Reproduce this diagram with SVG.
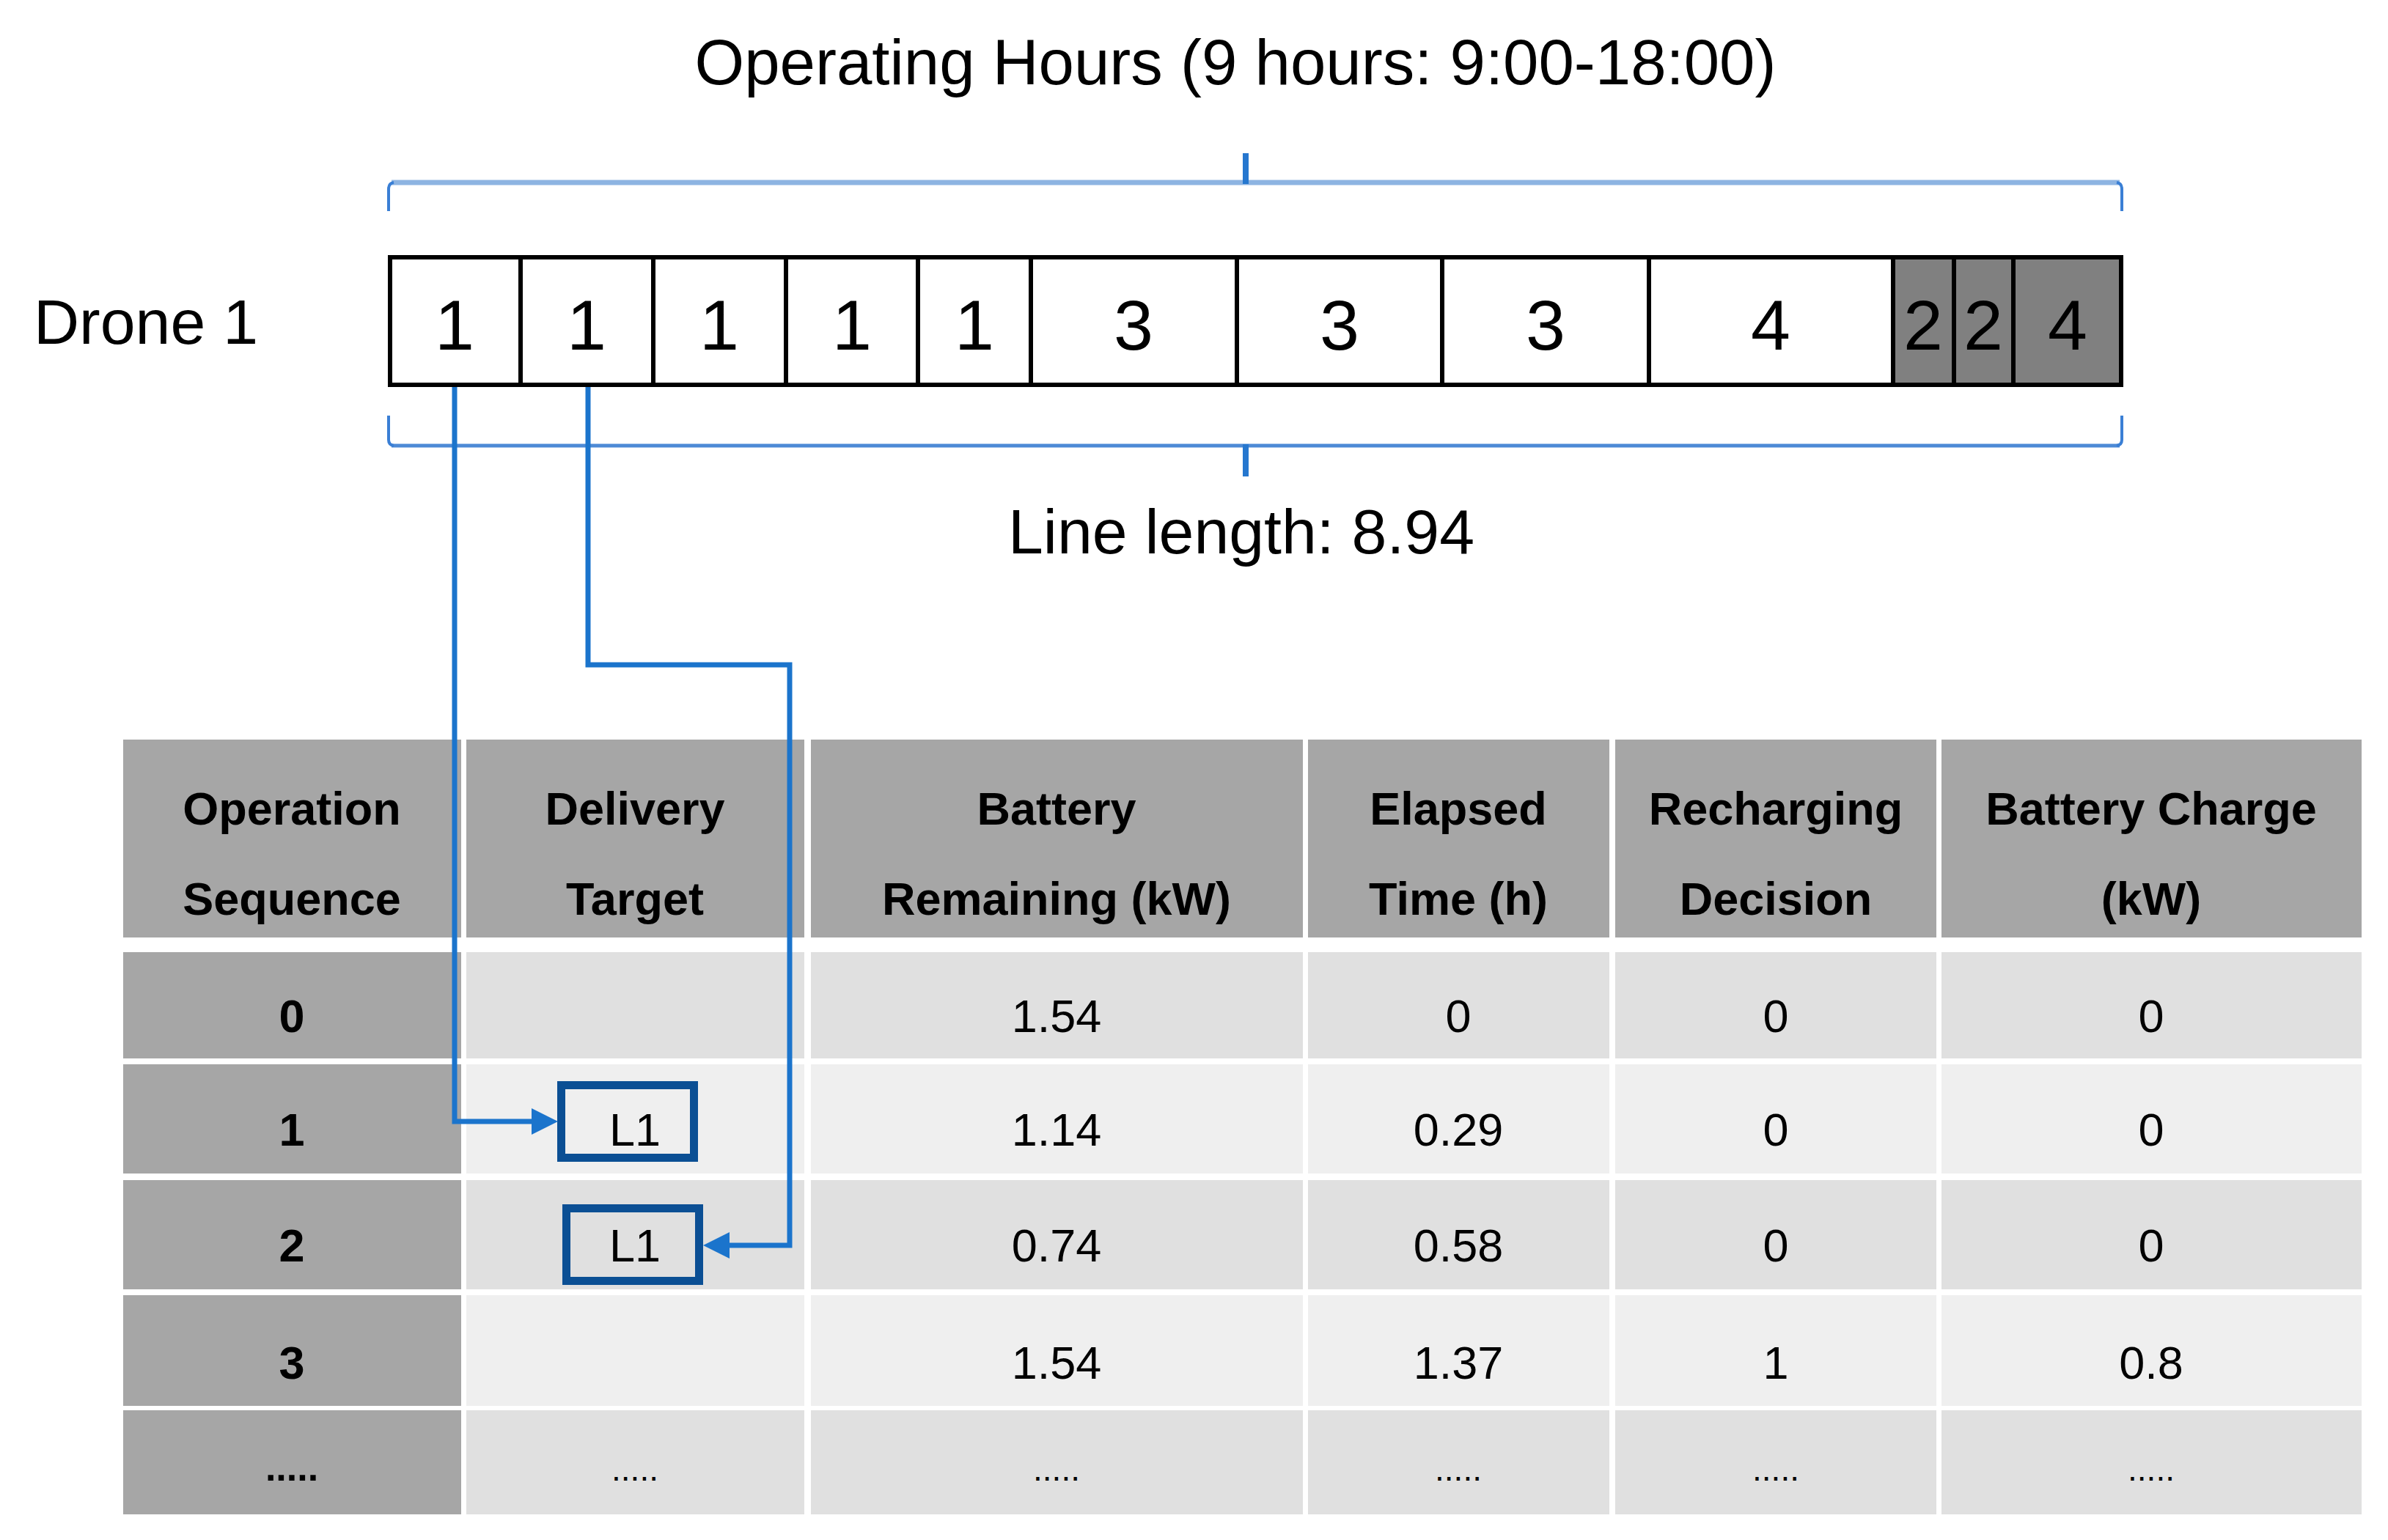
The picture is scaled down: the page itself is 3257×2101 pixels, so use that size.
<svg xmlns="http://www.w3.org/2000/svg" width="3257" height="2101" viewBox="0 0 3257 2101">
<style>
.lbl{font-family:"Liberation Sans",Arial,sans-serif;fill:#000}
.big{font-size:87px}
.cellnum{font-size:97px;text-anchor:middle}
.cell{fill:#fff;stroke:#000;stroke-width:6}
.cellg{fill:#808080;stroke:#000;stroke-width:6}
.hd{fill:#a6a6a6}
.rA{fill:#e0e0e0}
.rB{fill:#efefef}
.th{font-size:63px;font-weight:bold;text-anchor:middle}
.td{font-size:63px;text-anchor:middle}
.tdb{font-size:63px;font-weight:bold;text-anchor:middle}
.conn{fill:none;stroke:#1b74cc;stroke-width:7}
.lbox{fill:none;stroke:#0b4f94;stroke-width:11}
.brH{fill:none;stroke:#8db4e2;stroke-width:7}
.brH2{fill:none;stroke:#4d8ad6;stroke-width:5}
.brV{fill:none;stroke:#3a7fd5;stroke-width:4}
.tick{fill:none;stroke:#2677cf;stroke-width:8}
</style>
<defs>
<marker id="ah" markerUnits="userSpaceOnUse" viewBox="0 0 36 36" refX="0" refY="18" markerWidth="36" markerHeight="36" orient="auto">
<path d="M0,0 L36,18 L0,36 z" fill="#1b74cc"/>
</marker>
</defs>
<rect x="0" y="0" width="3257" height="2101" fill="#fff"/>

<g id="title"><text class="lbl big" x="1685" y="115" text-anchor="middle">Operating Hours (9 hours: 9:00-18:00)</text></g>

<g id="bracket-top">
<path class="brH" d="M534 249 H2891"/>
<path class="brV" d="M530 288 V258 Q530 250 537 249"/>
<path class="brV" d="M2894 288 V258 Q2894 250 2887 249"/>
<path class="tick" d="M1699 209 V251"/>
</g>

<g id="drone-label"><text class="lbl big" x="46" y="469" style="font-size:86px">Drone 1</text></g>

<g id="schedule-bar">
<rect class="cell" x="532" y="351" width="178" height="174"/>
<rect class="cell" x="710" y="351" width="181" height="174"/>
<rect class="cell" x="891" y="351" width="181" height="174"/>
<rect class="cell" x="1072" y="351" width="180" height="174"/>
<rect class="cell" x="1252" y="351" width="154" height="174"/>
<rect class="cell" x="1406" y="351" width="281" height="174"/>
<rect class="cell" x="1687" y="351" width="280" height="174"/>
<rect class="cell" x="1967" y="351" width="282" height="174"/>
<rect class="cell" x="2249" y="351" width="333" height="174"/>
<rect class="cellg" x="2582" y="351" width="83" height="174"/>
<rect class="cellg" x="2665" y="351" width="81" height="174"/>
<rect class="cellg" x="2746" y="351" width="147" height="174"/>
<g class="lbl cellnum">
<text x="620" y="477">1</text>
<text x="800" y="477">1</text>
<text x="981" y="477">1</text>
<text x="1162" y="477">1</text>
<text x="1329" y="477">1</text>
<text x="1546" y="477">3</text>
<text x="1827" y="477">3</text>
<text x="2108" y="477">3</text>
<text x="2415" y="477">4</text>
<text x="2623" y="477">2</text>
<text x="2705" y="477">2</text>
<text x="2820" y="477">4</text>
</g>
</g>

<g id="bracket-bottom">
<path class="brH2" d="M534 608 H2891"/>
<path class="brV" d="M530 567 V600 Q530 607 537 608"/>
<path class="brV" d="M2894 567 V600 Q2894 607 2887 608"/>
<path class="tick" d="M1699 606 V650"/>
</g>

<g id="line-length"><text class="lbl big" x="1693" y="755" text-anchor="middle" style="font-size:86px">Line length: 8.94</text></g>

<g id="table">
<rect class="hd" x="168" y="1009" width="461" height="270"/>
<rect class="hd" x="636" y="1009" width="461" height="270"/>
<rect class="hd" x="1106" y="1009" width="671" height="270"/>
<rect class="hd" x="1784" y="1009" width="411" height="270"/>
<rect class="hd" x="2203" y="1009" width="438" height="270"/>
<rect class="hd" x="2648" y="1009" width="573" height="270"/>
<g class="lbl th">
<text x="398" y="1125">Operation</text><text x="398" y="1248">Sequence</text>
<text x="866" y="1125">Delivery</text><text x="866" y="1248">Target</text>
<text x="1441" y="1125">Battery</text><text x="1441" y="1248">Remaining (kW)</text>
<text x="1989" y="1125">Elapsed</text><text x="1989" y="1248">Time (h)</text>
<text x="2422" y="1125">Recharging</text><text x="2422" y="1248">Decision</text>
<text x="2934" y="1125">Battery Charge</text><text x="2934" y="1248">(kW)</text>
</g>

<g id="row0">
<rect class="hd" x="168" y="1299" width="461" height="145"/>
<rect class="rA" x="636" y="1299" width="461" height="145"/>
<rect class="rA" x="1106" y="1299" width="671" height="145"/>
<rect class="rA" x="1784" y="1299" width="411" height="145"/>
<rect class="rA" x="2203" y="1299" width="438" height="145"/>
<rect class="rA" x="2648" y="1299" width="573" height="145"/>
<text class="lbl tdb" x="398" y="1408">0</text>
<text class="lbl td" x="1441" y="1408">1.54</text>
<text class="lbl td" x="1989" y="1408">0</text>
<text class="lbl td" x="2422" y="1408">0</text>
<text class="lbl td" x="2934" y="1408">0</text>
</g>
<g id="row1">
<rect class="hd" x="168" y="1452" width="461" height="149"/>
<rect class="rB" x="636" y="1452" width="461" height="149"/>
<rect class="rB" x="1106" y="1452" width="671" height="149"/>
<rect class="rB" x="1784" y="1452" width="411" height="149"/>
<rect class="rB" x="2203" y="1452" width="438" height="149"/>
<rect class="rB" x="2648" y="1452" width="573" height="149"/>
<text class="lbl tdb" x="398" y="1563">1</text>
<text class="lbl td" x="1441" y="1563">1.14</text>
<text class="lbl td" x="1989" y="1563">0.29</text>
<text class="lbl td" x="2422" y="1563">0</text>
<text class="lbl td" x="2934" y="1563">0</text>
</g>
<g id="row2">
<rect class="hd" x="168" y="1610" width="461" height="149"/>
<rect class="rA" x="636" y="1610" width="461" height="149"/>
<rect class="rA" x="1106" y="1610" width="671" height="149"/>
<rect class="rA" x="1784" y="1610" width="411" height="149"/>
<rect class="rA" x="2203" y="1610" width="438" height="149"/>
<rect class="rA" x="2648" y="1610" width="573" height="149"/>
<text class="lbl tdb" x="398" y="1721">2</text>
<text class="lbl td" x="1441" y="1721">0.74</text>
<text class="lbl td" x="1989" y="1721">0.58</text>
<text class="lbl td" x="2422" y="1721">0</text>
<text class="lbl td" x="2934" y="1721">0</text>
</g>
<g id="row3">
<rect class="hd" x="168" y="1767" width="461" height="151"/>
<rect class="rB" x="636" y="1767" width="461" height="151"/>
<rect class="rB" x="1106" y="1767" width="671" height="151"/>
<rect class="rB" x="1784" y="1767" width="411" height="151"/>
<rect class="rB" x="2203" y="1767" width="438" height="151"/>
<rect class="rB" x="2648" y="1767" width="573" height="151"/>
<text class="lbl tdb" x="398" y="1881">3</text>
<text class="lbl td" x="1441" y="1881">1.54</text>
<text class="lbl td" x="1989" y="1881">1.37</text>
<text class="lbl td" x="2422" y="1881">1</text>
<text class="lbl td" x="2934" y="1881">0.8</text>
</g>
<g id="row4">
<rect class="hd" x="168" y="1924" width="461" height="142"/>
<rect class="rA" x="636" y="1924" width="461" height="142"/>
<rect class="rA" x="1106" y="1924" width="671" height="142"/>
<rect class="rA" x="1784" y="1924" width="411" height="142"/>
<rect class="rA" x="2203" y="1924" width="438" height="142"/>
<rect class="rA" x="2648" y="1924" width="573" height="142"/>
<text class="lbl tdb" x="398" y="2020" style="font-size:52px">.....</text>
<text class="lbl td" x="866" y="2020" style="font-size:46px">.....</text>
<text class="lbl td" x="1441" y="2020" style="font-size:46px">.....</text>
<text class="lbl td" x="1989" y="2020" style="font-size:46px">.....</text>
<text class="lbl td" x="2422" y="2020" style="font-size:46px">.....</text>
<text class="lbl td" x="2934" y="2020" style="font-size:46px">.....</text>
</g>
</g>

<g id="target-L1-a">
<rect class="lbox" x="765.5" y="1480.5" width="181" height="99"/>
<text class="lbl td" x="866" y="1563">L1</text>
</g>
<g id="target-L1-b">
<rect class="lbox" x="772.5" y="1648.5" width="181" height="99"/>
<text class="lbl td" x="866" y="1721">L1</text>
</g>

<g id="connectors">
<path class="conn" d="M620 528 V1530 H725" marker-end="url(#ah)"/>
<path class="conn" d="M802 528 V907 H1077 V1699 H995" marker-end="url(#ah)"/>
</g>
</svg>
